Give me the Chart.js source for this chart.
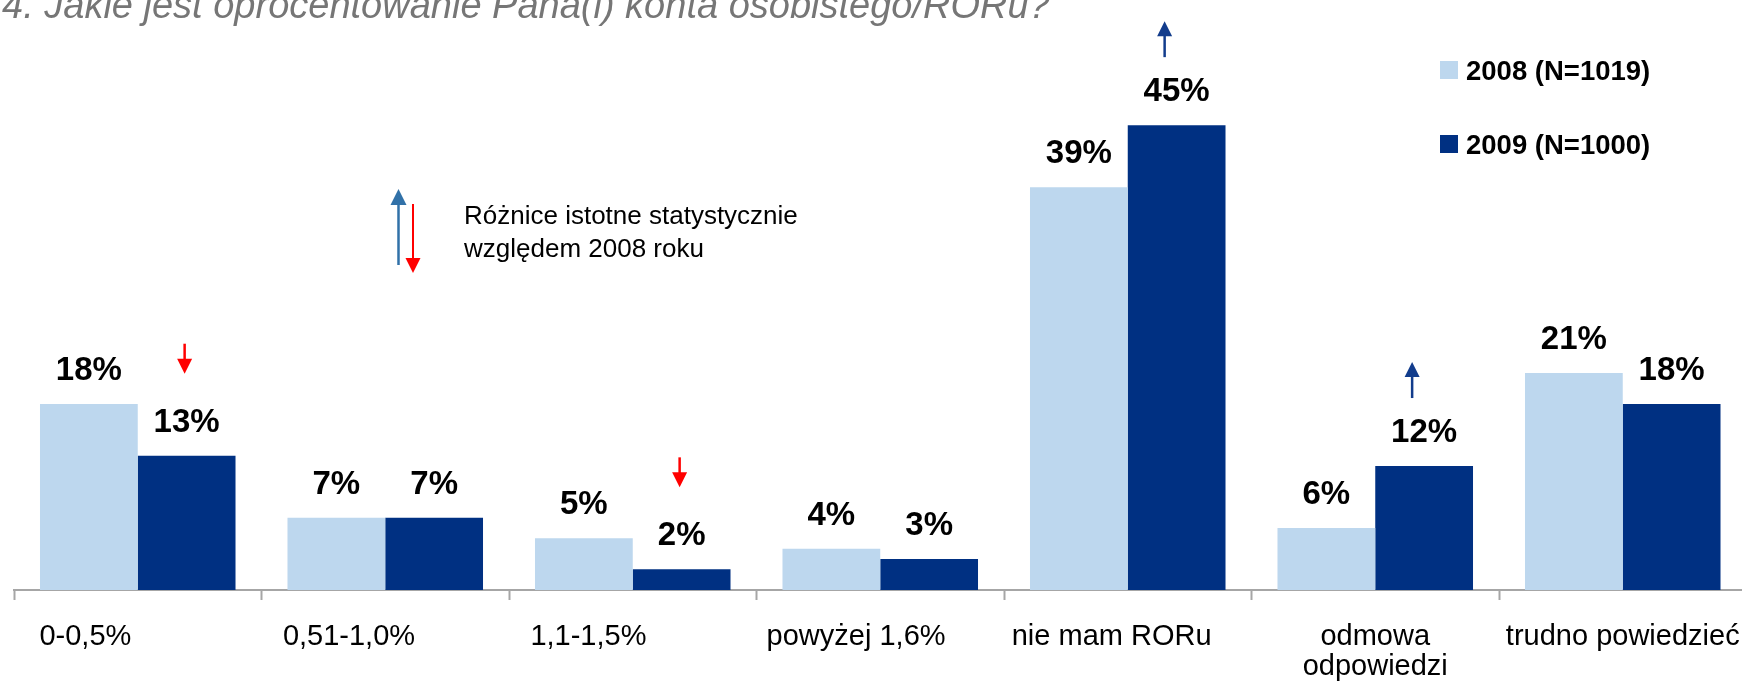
<!DOCTYPE html>
<html>
<head>
<meta charset="utf-8">
<script src="https://cdn.jsdelivr.net/npm/chart.js@4"></script>
<style>
html, body { margin: 0; padding: 0; background: #fff; overflow: hidden; }
#wrap { width: 1750px; height: 688px; }
</style>
</head>
<body>
<div id="wrap"><canvas id="chart" width="1750" height="688"></canvas></div>
<script>
// dane z wykresu
const categories = [
    '0-0,5%' + ' '.repeat(13),
    '0,51-1,0%' + ' '.repeat(9),
    '1,1-1,5%' + ' '.repeat(11),
    'powyżej 1,6%' + ' '.repeat(6),
    'nie mam RORu' + ' '.repeat(4),
    ['odmowa', 'odpowiedzi'],
    'trudno powiedzieć'
];
const values2008 = [18, 7, 5, 4, 39, 6, 21];
const values2009 = [13, 7, 2, 3, 45, 12, 18];
const seriesNames = ['2008 (N=1019)', '2009 (N=1000)'];
// istotne zmiany 2009 vs 2008: 1 = wzrost, -1 = spadek
const changes2009 = [-1, 0, -1, 0, 1, 1, 0];
const titleText = '4. Jakie jest oprocentowanie Pana(i) konta osobistego/RORu?';
const noteLines = ['Różnice istotne statystycznie', 'względem 2008 roku'];

const lightBlue = '#bdd7ee';
const darkBlue = '#003082';
const upColor = '#123c8c';
const downColor = '#ff0000';
const FONT = "'Liberation Sans', Arial, sans-serif";

Chart.defaults.font.family = FONT;

function arrow(ctx, x, yTail, yTip, color, shaftW, headW, headH) {
    const dir = Math.sign(yTip - yTail);
    ctx.strokeStyle = color;
    ctx.lineWidth = shaftW;
    ctx.beginPath();
    ctx.moveTo(x, yTail);
    ctx.lineTo(x, yTip - dir * headH + dir);
    ctx.stroke();
    ctx.fillStyle = color;
    ctx.beginPath();
    ctx.moveTo(x, yTip);
    ctx.lineTo(x - headW / 2, yTip - dir * headH);
    ctx.lineTo(x + headW / 2, yTip - dir * headH);
    ctx.closePath();
    ctx.fill();
}

const extras = {
    id: 'extras',
    afterDatasetsDraw(chart) {
        const ctx = chart.ctx;
        ctx.save();

        // etykiety wartości
        ctx.fillStyle = '#000';
        ctx.font = 'bold 33px ' + FONT;
        ctx.textAlign = 'center';
        ctx.textBaseline = 'alphabetic';
        chart.data.datasets.forEach((ds, di) => {
            chart.getDatasetMeta(di).data.forEach((bar, i) => {
                ctx.fillText(ds.data[i] + '%', bar.x, bar.y - 24);
            });
        });

        // strzałki istotności
        const meta2009 = chart.getDatasetMeta(1);
        changes2009.forEach((c, i) => {
            if (!c) return;
            const bar = meta2009.data[i];
            if (c > 0) {
                const bottom = bar.y - 68;
                arrow(ctx, bar.x - 12, bottom, bottom - 36, upColor, 2.5, 15, 15);
            } else {
                const bottom = bar.y - 82;
                arrow(ctx, bar.x - 2, bottom - 30, bottom, downColor, 2.5, 15, 15);
            }
        });

        // tytuł (ucięty u góry jak w oryginale)
        ctx.fillStyle = '#767676';
        ctx.font = 'italic 38px ' + FONT;
        ctx.textAlign = 'left';
        ctx.fillText(titleText, 2, 18);

        // legenda
        ctx.font = 'bold 27.5px ' + FONT;
        chart.data.datasets.forEach((ds, di) => {
            const y = 61 + di * 74;
            ctx.fillStyle = ds.backgroundColor;
            ctx.fillRect(1440, y, 18, 18);
            ctx.fillStyle = '#000';
            ctx.fillText(ds.label, 1466, y + 18.5);
        });

        // objaśnienie strzałek
        arrow(ctx, 398.5, 265, 189, '#3171a8', 2.5, 16, 16);
        arrow(ctx, 413, 204, 273, downColor, 2, 15, 15);
        ctx.fillStyle = '#000';
        ctx.font = '26px ' + FONT;
        ctx.fillText(noteLines[0], 464, 224);
        ctx.fillText(noteLines[1], 464, 256.5);

        ctx.restore();
    }
};

new Chart(document.getElementById('chart'), {
    type: 'bar',
    data: {
        labels: categories,
        datasets: [
            { label: seriesNames[0], data: values2008, backgroundColor: lightBlue },
            { label: seriesNames[1], data: values2009, backgroundColor: darkBlue }
        ]
    },
    options: {
        responsive: false,
        devicePixelRatio: 1,
        animation: false,
        layout: { padding: { top: 73.5, left: 14, right: 3.5, bottom: 0 } },
        datasets: {
            bar: { barPercentage: 1, categoryPercentage: 0.79 }
        },
        scales: {
            x: {
                afterFit: (scale) => {
                    scale.height = 98;
                    scale.paddingLeft = 0;
                    scale.paddingRight = 0;
                },
                grid: {
                    offset: true,
                    drawOnChartArea: false,
                    drawTicks: true,
                    tickLength: 10,
                    tickWidth: 2,
                    tickColor: '#a6a6a6'
                },
                border: { display: true, color: '#a6a6a6', width: 2 },
                ticks: {
                    autoSkip: false,
                    maxRotation: 0,
                    minRotation: 0,
                    padding: 22,
                    color: '#000',
                    font: { size: 29, lineHeight: 1.04 }
                }
            },
            y: { display: false, min: 0, max: 50 }
        },
        plugins: {
            legend: { display: false },
            tooltip: { enabled: false }
        }
    },
    plugins: [extras]
});
</script>
</body>
</html>
